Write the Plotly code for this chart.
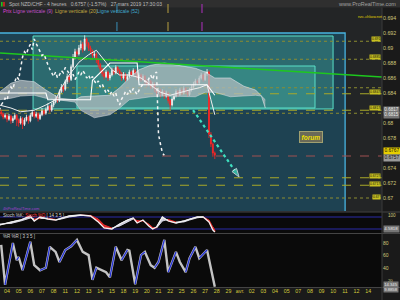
import plotly.graph_objects as go

W, H = 400, 300
def PX(px): return px / W
def PY(py): return 1 - py / H

# ---------------- data ----------------
opens = [0.6815, 0.6812, 0.6808, 0.6810, 0.6805, 0.6809, 0.6803, 0.6806, 0.6810, 0.6804,
 0.6800, 0.6806, 0.6798, 0.6804, 0.6808, 0.6803, 0.6810, 0.6814, 0.6809, 0.6812,
 0.6806, 0.6811, 0.6816, 0.6813, 0.6818, 0.6822, 0.6817, 0.6824, 0.6828, 0.6833,
 0.6830, 0.6842, 0.6848, 0.6845, 0.6855, 0.6862, 0.6858, 0.6875, 0.6888, 0.6895,
 0.6892, 0.6900, 0.6905, 0.6898, 0.6912, 0.6906, 0.6900, 0.6896, 0.6890, 0.6892,
 0.6884, 0.6878, 0.6872, 0.6866, 0.6862, 0.6868, 0.6860, 0.6864, 0.6870, 0.6867,
 0.6874, 0.6870, 0.6866, 0.6860, 0.6865, 0.6858, 0.6862, 0.6868, 0.6864, 0.6870,
 0.6866, 0.6860, 0.6864, 0.6858, 0.6862, 0.6856, 0.6852, 0.6856, 0.6848, 0.6852,
 0.6845, 0.6840, 0.6844, 0.6838, 0.6842, 0.6836, 0.6840, 0.6830, 0.6824, 0.6832,
 0.6836, 0.6842, 0.6838, 0.6844, 0.6840, 0.6846, 0.6842, 0.6838, 0.6844, 0.6848,
 0.6852, 0.6856, 0.6854, 0.6860, 0.6864, 0.6858, 0.6866, 0.6868, 0.6785, 0.6772,
 0.6760]
closes = [0.6812, 0.6808, 0.6810, 0.6805, 0.6809, 0.6803, 0.6806, 0.6810, 0.6804, 0.6800,
 0.6806, 0.6798, 0.6804, 0.6808, 0.6803, 0.6810, 0.6814, 0.6809, 0.6812, 0.6806,
 0.6811, 0.6816, 0.6813, 0.6818, 0.6822, 0.6817, 0.6824, 0.6828, 0.6833, 0.6830,
 0.6842, 0.6848, 0.6845, 0.6855, 0.6862, 0.6858, 0.6875, 0.6888, 0.6895, 0.6892,
 0.6900, 0.6905, 0.6898, 0.6912, 0.6906, 0.6900, 0.6896, 0.6890, 0.6892, 0.6884,
 0.6878, 0.6872, 0.6866, 0.6862, 0.6868, 0.6860, 0.6864, 0.6870, 0.6867, 0.6874,
 0.6870, 0.6866, 0.6860, 0.6865, 0.6858, 0.6862, 0.6868, 0.6864, 0.6870, 0.6866,
 0.6860, 0.6864, 0.6858, 0.6862, 0.6856, 0.6852, 0.6856, 0.6848, 0.6852, 0.6845,
 0.6840, 0.6844, 0.6838, 0.6842, 0.6836, 0.6840, 0.6830, 0.6824, 0.6832, 0.6836,
 0.6842, 0.6838, 0.6844, 0.6840, 0.6846, 0.6842, 0.6838, 0.6844, 0.6848, 0.6852,
 0.6856, 0.6854, 0.6860, 0.6864, 0.6858, 0.6866, 0.6868, 0.6785, 0.6772, 0.6760,
 0.6757]
highs = [0.6818, 0.6814, 0.6813, 0.6812, 0.6812, 0.6811, 0.6809, 0.6813, 0.6812, 0.6806,
 0.6809, 0.6808, 0.6807, 0.6811, 0.6810, 0.6813, 0.6818, 0.6816, 0.6815, 0.6814,
 0.6814, 0.6820, 0.6818, 0.6821, 0.6826, 0.6824, 0.6827, 0.6831, 0.6837, 0.6836,
 0.6845, 0.6852, 0.6851, 0.6858, 0.6866, 0.6864, 0.6878, 0.6892, 0.6899, 0.6898,
 0.6904, 0.6910, 0.6908, 0.6917, 0.6914, 0.6908, 0.6903, 0.6898, 0.6895, 0.6894,
 0.6886, 0.6880, 0.6874, 0.6869, 0.6871, 0.6870, 0.6867, 0.6874, 0.6873, 0.6877,
 0.6876, 0.6872, 0.6868, 0.6868, 0.6867, 0.6865, 0.6871, 0.6870, 0.6873, 0.6872,
 0.6868, 0.6867, 0.6866, 0.6865, 0.6864, 0.6858, 0.6859, 0.6858, 0.6855, 0.6854,
 0.6847, 0.6847, 0.6846, 0.6845, 0.6844, 0.6843, 0.6842, 0.6832, 0.6835, 0.6839,
 0.6845, 0.6844, 0.6847, 0.6846, 0.6849, 0.6848, 0.6844, 0.6847, 0.6851, 0.6855,
 0.6859, 0.6858, 0.6863, 0.6867, 0.6866, 0.6869, 0.6872, 0.6870, 0.6788, 0.6774,
 0.6762]
lows = [0.6809, 0.6805, 0.6806, 0.6801, 0.6803, 0.6799, 0.6800, 0.6804, 0.6796, 0.6795,
 0.6798, 0.6792, 0.6796, 0.6802, 0.6799, 0.6801, 0.6808, 0.6806, 0.6807, 0.6802,
 0.6804, 0.6809, 0.6810, 0.6811, 0.6816, 0.6814, 0.6815, 0.6821, 0.6826, 0.6827,
 0.6828, 0.6840, 0.6841, 0.6843, 0.6852, 0.6854, 0.6856, 0.6873, 0.6885, 0.6888,
 0.6890, 0.6897, 0.6894, 0.6896, 0.6902, 0.6896, 0.6892, 0.6886, 0.6887, 0.6880,
 0.6874, 0.6868, 0.6862, 0.6858, 0.6860, 0.6856, 0.6857, 0.6862, 0.6864, 0.6865,
 0.6867, 0.6863, 0.6856, 0.6858, 0.6855, 0.6856, 0.6860, 0.6861, 0.6862, 0.6863,
 0.6857, 0.6858, 0.6855, 0.6856, 0.6852, 0.6848, 0.6850, 0.6845, 0.6846, 0.6841,
 0.6836, 0.6838, 0.6834, 0.6836, 0.6832, 0.6834, 0.6826, 0.6818, 0.6822, 0.6830,
 0.6834, 0.6835, 0.6836, 0.6837, 0.6838, 0.6839, 0.6835, 0.6836, 0.6842, 0.6846,
 0.6850, 0.6851, 0.6852, 0.6858, 0.6855, 0.6856, 0.6863, 0.6780, 0.6768, 0.6755,
 0.6752]
candle_x = list(range(len(closes)))          # one slot per 4h candle
chikou_shift = 26

# Ichimoku cloud (senkou spans)
cloud_x = [-1, 5, 10, 17, 23, 30, 38, 41, 48, 56, 61, 66, 71, 77, 84, 92, 100, 105, 110, 118, 125, 131, 134, 136]
span_a = [0.6841, 0.6853, 0.6857, 0.6855, 0.6844, 0.6833, 0.6831, 0.6835, 0.6836, 0.6837, 0.6847, 0.6860,
          0.6871, 0.6877, 0.6880, 0.6876, 0.6873, 0.6868, 0.6860, 0.6860, 0.6849, 0.6844, 0.6836, 0.6820]
span_b = [0.6831, 0.6833, 0.6836, 0.6837, 0.6833, 0.6831, 0.6828, 0.6817, 0.6807, 0.6811, 0.6820, 0.6831,
          0.6833, 0.6835, 0.6836, 0.6835, 0.6835, 0.6841, 0.6841, 0.6835, 0.6836, 0.6837, 0.6836, 0.6831]
tenkan_x = [-1, 5, 10, 17, 23, 28, 31, 35, 40, 45, 49, 53, 57, 61, 66, 72, 77, 82, 87, 92, 97, 102, 106, 108, 110]
tenkan = [0.6824, 0.6820, 0.6815, 0.6817, 0.6824, 0.6831, 0.6847, 0.6864, 0.6881, 0.6891, 0.6897, 0.6884, 0.6871,
          0.6864, 0.6864, 0.6860, 0.6851, 0.6841, 0.6837, 0.6841, 0.6844, 0.6847, 0.6851, 0.6831, 0.6811]
kijun_x = [-1, 23, 24, 46, 47, 56, 70, 71, 106, 110]
kijun = [0.6840, 0.6840, 0.6831, 0.6831, 0.6857, 0.6880, 0.6880, 0.6851, 0.6851, 0.6837]

# drawn objects
trend_x = [-0.62, 196.1]
trend_y = [0.68933, 0.68613]
arrow_x = [98.8, 122.5]
arrow_y = [0.68173, 0.6728]
frame_box = [-2, 177.1, 0.6600, 0.6920]
box1 = [16.4, 170.9, 0.68187, 0.6916]
box2 = [39.0, 161.6, 0.6820, 0.6876]
vlines_x = [59.6, 85.9, 103.4]
vlines_col = ['#3a8fb8', '#b8a040', '#b030c0']
dotted_levels = [0.6909, 0.6885, 0.6847, 0.6813, 0.6700]
dashed_levels = [0.6839, 0.6817, 0.6727, 0.6717]
last_price_level = 0.6756

# stochastic
stoch_x = [-1, 5, 10, 15, 17, 20, 24, 28, 31, 35, 41, 46, 50, 53, 57, 61, 65, 68, 70, 73, 76, 78, 80, 83, 86, 90,
           94, 97, 101, 104, 107, 109, 110]
stoch_k = [40, 55, 65, 85, 60, 80, 70, 65, 75, 85, 90, 85, 55, 25, 20, 45, 65, 75, 50, 65, 35, 20, 30, 80, 60, 50,
           60, 70, 80, 80, 55, 15, 5]
stoch_d = [45, 48, 60, 75, 70, 72, 74, 68, 70, 80, 88, 88, 70, 40, 25, 35, 55, 70, 62, 60, 45, 28, 25, 60, 68, 55,
           55, 65, 76, 80, 65, 30, 15]

# lower oscillator
osc_x = [0, 2, 6, 8, 9, 11, 15, 17, 20, 23, 25, 28, 30, 33, 36, 39, 42, 45, 47, 49, 54, 56, 59, 62, 65, 66, 69,
         72, 74, 77, 79, 81, 84, 86, 90, 92, 95, 97, 100, 102, 106, 108, 110]
osc_v = [77, 14, 80, 53, 58, 37, 82, 45, 37, 41, 74, 66, 50, 69, 75, 85, 66, 61, 22, 41, 34, 26, 74, 53, 69, 68, 15,
         61, 66, 45, 41, 50, 85, 34, 66, 50, 34, 56, 74, 56, 69, 41, 11]

day_labels = ["04", "05", "06", "07", "08", "11", "12", "13", "14", "15", "18", "19", "20", "21", "22", "25", "26",
              "27", "28", "29", "avr.", "02", "03", "04", "05", "07", "08", "09", "10", "11", "12", "14"]
price_ticks = [0.694, 0.692, 0.69, 0.688, 0.686, 0.684, 0.68, 0.678, 0.674, 0.672, 0.67]
price_ticktext = ["0.694", "0.692", "0.69", "0.688", "0.686", "0.684", "0.68", "0.678", "0.674", "0.672", "0.67"]
osc_ticks = [40, 60, 80]

# ---------------- figure ----------------
FONT = "Liberation Sans"
XR = [-0.62, 196.1]
XDOM = [0, 382 / 400]
fig = go.Figure()

# cloud
fig.add_trace(go.Scatter(x=cloud_x, y=span_b, mode='lines', line=dict(color='rgba(210,216,220,0.8)', width=0.7),
                         xaxis='x', yaxis='y', hoverinfo='skip'))
fig.add_trace(go.Scatter(x=cloud_x, y=span_a, mode='lines', line=dict(color='rgba(225,230,233,0.85)', width=0.7),
                         fill='tonexty', fillcolor='rgba(180,188,192,0.72)', xaxis='x', yaxis='y',
                         hoverinfo='skip'))
# trend line
fig.add_trace(go.Scatter(x=trend_x, y=trend_y, mode='lines', line=dict(color='#1ec81e', width=1.3),
                         xaxis='x', yaxis='y', hoverinfo='skip'))
# chikou (close shifted back)
fig.add_trace(go.Scatter(x=[i - chikou_shift for i in candle_x], y=closes, mode='lines',
                         line=dict(color='#f4f4f4', width=1.5, dash='dot'), xaxis='x', yaxis='y', hoverinfo='skip'))
fig.add_trace(go.Scatter(x=tenkan_x, y=tenkan, mode='lines', line=dict(color='#f0f0f0', width=1),
                         xaxis='x', yaxis='y', hoverinfo='skip'))
fig.add_trace(go.Scatter(x=kijun_x, y=kijun, mode='lines', line=dict(color='#ffffff', width=1.1),
                         xaxis='x', yaxis='y', hoverinfo='skip'))
# candles
fig.add_trace(go.Candlestick(x=candle_x, open=opens, high=highs, low=lows, close=closes,
                             increasing=dict(line=dict(color='#f2f2f2', width=0.8), fillcolor='#f2f2f2'),
                             decreasing=dict(line=dict(color='#ff2424', width=0.8), fillcolor='#ff2424'),
                             whiskerwidth=0, xaxis='x', yaxis='y', hoverinfo='skip'))
# arrow
fig.add_trace(go.Scatter(x=arrow_x, y=arrow_y, mode='lines+markers',
                         line=dict(color='#3ee0c0', width=2.2, dash='dot'),
                         marker=dict(symbol=['circle', 'arrow'], size=[0.1, 9], angleref='previous',
                                     color='#3ee0c0'),
                         xaxis='x', yaxis='y', hoverinfo='skip'))

# stochastic ribbon
red_x, red_y, wh_x, wh_y = [], [], [], []
for j in range(len(stoch_x) - 1):
    xs = [stoch_x[j], stoch_x[j + 1], stoch_x[j + 1], stoch_x[j], stoch_x[j], None]
    ys = [stoch_k[j], stoch_k[j + 1], stoch_d[j + 1], stoch_d[j], stoch_k[j], None]
    if stoch_k[j] + stoch_k[j + 1] < stoch_d[j] + stoch_d[j + 1]:
        red_x += xs; red_y += ys
    else:
        wh_x += xs; wh_y += ys
fig.add_trace(go.Scatter(x=wh_x, y=wh_y, mode='lines', fill='toself', fillcolor='rgba(215,215,228,0.95)',
                         line=dict(width=1, color='rgba(215,215,228,0.95)'), xaxis='x2', yaxis='y2',
                         hoverinfo='skip'))
fig.add_trace(go.Scatter(x=red_x, y=red_y, mode='lines', fill='toself', fillcolor='#e02828',
                         line=dict(width=1, color='#e02828'), xaxis='x2', yaxis='y2', hoverinfo='skip'))
fig.add_trace(go.Scatter(x=stoch_x, y=stoch_k, mode='lines', line=dict(color='#f0f0f0', width=1.3),
                         xaxis='x2', yaxis='y2', hoverinfo='skip'))

# oscillator
rise_x, rise_y = [], []
for j in range(len(osc_x) - 1):
    if osc_v[j + 1] > osc_v[j]:
        rise_x += [osc_x[j], osc_x[j + 1], None]
        rise_y += [osc_v[j], osc_v[j + 1], None]
fig.add_trace(go.Scatter(x=osc_x, y=osc_v, mode='lines', line=dict(color='#c4c4c4', width=2.4),
                         xaxis='x3', yaxis='y3', hoverinfo='skip'))
fig.add_trace(go.Scatter(x=rise_x, y=rise_y, mode='lines', line=dict(color='#2230d8', width=1.3),
                         xaxis='x3', yaxis='y3', hoverinfo='skip'))

# ---------------- shapes ----------------
shapes = []
def prect(x0, y0, x1, y1, color):
    shapes.append(dict(type='rect', xref='paper', yref='paper', x0=PX(x0), x1=PX(x1), y0=PY(y1), y1=PY(y0),
                       fillcolor=color, line=dict(width=0), layer='below'))
prect(0, 0, 382, 211.5, '#232526')
prect(0, 0, 400, 7.5, '#2f2f2f')
prect(0, 212, 382, 287.5, '#0a0a0a')
shapes.append(dict(type='rect', xref='x', yref='y', x0=frame_box[0], x1=frame_box[1], y0=frame_box[2],
                   y1=frame_box[3], fillcolor='#1e4252', line=dict(color='#48b4e0', width=1.3), layer='below'))
for b in (box1, box2):
    shapes.append(dict(type='rect', xref='x', yref='y', x0=b[0], x1=b[1], y0=b[2], y1=b[3],
                       fillcolor='rgba(80,200,180,0.30)', line=dict(color='#5ae0c8', width=1), layer='below'))
for lv in dotted_levels:
    shapes.append(dict(type='line', xref='x', yref='y', x0=XR[0], x1=XR[1], y0=lv, y1=lv,
                       line=dict(color='#8c8c30', width=1, dash='dot'), layer='below'))
for lv in dashed_levels:
    shapes.append(dict(type='line', xref='x', yref='y', x0=XR[0], x1=XR[1], y0=lv, y1=lv,
                       line=dict(color='#a8a828', width=1, dash='dash'), layer='below'))
shapes.append(dict(type='line', xref='x', yref='y', x0=XR[0], x1=XR[1], y0=last_price_level,
                   y1=last_price_level, line=dict(color='#a05050', width=1, dash='dash'), layer='below'))
for vx, vc in zip(vlines_x, vlines_col):
    shapes.append(dict(type='line', xref='x', yref='paper', x0=vx, x1=vx, y0=PY(211), y1=PY(4),
                       line=dict(color=vc, width=1, dash='dash'), layer='below'))
# panel separators
for py in (212, 233.5, 287.5):
    shapes.append(dict(type='line', xref='paper', yref='paper', x0=0, x1=PX(400), y0=PY(py), y1=PY(py),
                       line=dict(color='#444444', width=1)))
shapes.append(dict(type='line', xref='paper', yref='paper', x0=PX(382), x1=PX(382), y0=0, y1=PY(7.5),
                   line=dict(color='#3a3a3a', width=1)))
# stochastic 80/20 levels
for lv in (80, 20):
    shapes.append(dict(type='line', xref='x2', yref='y2', x0=XR[0], x1=XR[1], y0=lv, y1=lv,
                       line=dict(color='#2a2aa8', width=1), layer='below'))
# tiny header icon
prect(1, 2, 2.6, 6.5, '#20c020')
prect(3.2, 2, 4.8, 6.5, '#e02020')

# ---------------- annotations ----------------
ann = []
def txt(px, py, s, color, size=5, xanchor='left', bg=None, border=None, pad=0.5):
    d = dict(xref='paper', yref='paper', x=PX(px), y=PY(py), text=s, showarrow=False,
             xanchor=xanchor, yanchor='middle', font=dict(family=FONT, size=size, color=color))
    if bg:
        d['bgcolor'] = bg
        d['borderpad'] = pad
    if border:
        d['bordercolor'] = border
        d['borderwidth'] = 1
    ann.append(d)

txt(7, 3.8, "Spot NZD/CHF - 4 heures   0.6757 (-1.57%)   27 mars 2019 17:30:03", '#bcbcbc', 5)
txt(398, 3.8, "www.ProRealTime.com", '#a0a0a0', 5.5, xanchor='right')
txt(1, 11, "Prix", '#e040d8', 5)
txt(11, 11, "Ligne verticale (9)", '#c050c8', 5)
txt(53, 11, "Ligne verticale (20)", '#c0a840', 5)
txt(95, 11, "Ligne verticale (52)", '#40a8cc', 5)
txt(356, 16.5, "nzc-chkow.net", '#e0d000', 3.8)
txt(1, 208, "4hProRealTime.com", '#a040d0', 4)
txt(1, 215.5, "Stoch %K: <span style='color:#ff4040'>Stoch %D</span> [ 14 3 5 ]", '#d0d0d0', 4.5)
txt(1, 236.5, "%R %R [ 3 3 5 ]", '#d0d0d0', 4.5)
# forum button
ann.append(dict(xref='x', yref='y', x=159.6, y=0.67813, text="<i><b>forum</b></i>", showarrow=False,
                font=dict(family=FONT, size=6.5, color='#f0e000'), bgcolor='#6a6a58', bordercolor='#a0a070',
                borderwidth=1, borderpad=1.5))
# small level tags
for py, s in ((39, "0.691"), (57, "0.6885"), (92, "0.6847"), (108, "0.6817"), (176, "0.6727"),
              (184, "0.6717"), (197, "0.67")):
    txt(381, py, s, '#101010', 3.3, xanchor='right', bg='#c8c020', pad=0)
# axis value boxes
txt(383, 110, "0.6817", '#e8e8e8', 4.6, bg='#767676', pad=0.3)
txt(383, 115, "0.6815", '#e8e8e8', 4.6, bg='#767676', pad=0.3)
txt(383, 151, "0.6767", '#101010', 4.8, bg='#e8cf00', pad=0.4)
txt(383, 158, "0.6757", '#101010', 4.8, bg='#9a9a9a', pad=0.4)
txt(386, 215, "100", '#cfc77a', 4.6)
txt(383, 229, "4.5818", '#e8e8e8', 4.4, bg='#767676', pad=0.3)
txt(386, 280.5, "20", '#cfc77a', 4.2)
txt(383, 284.5, "14.345", '#e8e8e8', 4.2, bg='#767676', pad=0.2)
txt(383, 289.5, "9.8858", '#e8e8e8', 4.2, bg='#767676', pad=0.2)

axis_common = dict(showgrid=False, zeroline=False, showline=False, ticks='')
fig.update_layout(
    width=W, height=H, margin=dict(l=0, r=0, t=0, b=0), showlegend=False,
    paper_bgcolor='#1a1a1a', plot_bgcolor='rgba(0,0,0,0)',
    xaxis=dict(domain=XDOM, range=XR, anchor='y', showticklabels=False, rangeslider=dict(visible=False),
               **axis_common),
    yaxis=dict(domain=[PY(211), PY(8)], range=[0.668267, 0.695333], anchor='x', side='right',
               tickvals=price_ticks, ticktext=price_ticktext,
               tickfont=dict(family=FONT, size=5.3, color='#cfc77a'), **axis_common),
    xaxis2=dict(domain=XDOM, range=XR, anchor='y2', matches='x', showticklabels=False, **axis_common),
    yaxis2=dict(domain=[PY(233), PY(213)], range=[0, 100], anchor='x2', side='right', showticklabels=False,
                **axis_common),
    xaxis3=dict(domain=XDOM, range=XR, anchor='y3', matches='x',
                tickvals=[3 + 6 * k for k in range(len(day_labels))], ticktext=day_labels,
                tickfont=dict(family=FONT, size=5.3, color='#d4cc3c'), **axis_common),
    yaxis3=dict(domain=[PY(287), PY(234)], range=[10.6, 94.3], anchor='x3', side='right',
                tickvals=osc_ticks, ticktext=[str(v) for v in osc_ticks],
                tickfont=dict(family=FONT, size=5, color='#cfc77a'), **axis_common),
    shapes=shapes, annotations=ann,
)

fig.write_html("out.html")
